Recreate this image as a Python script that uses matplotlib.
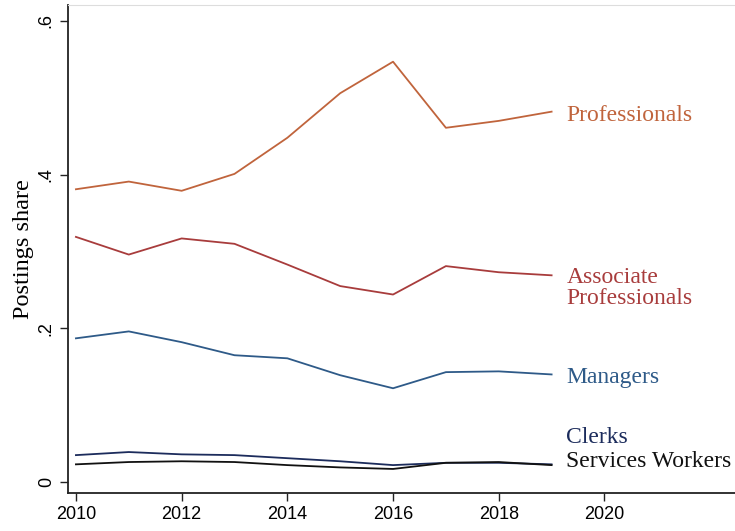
import matplotlib
matplotlib.use("Agg")
import matplotlib.pyplot as plt

years = [2010, 2011, 2012, 2013, 2014, 2015, 2016, 2017, 2018, 2019]
professionals = [0.381, 0.391, 0.379, 0.401, 0.448, 0.506, 0.547, 0.461, 0.470, 0.482]
associate = [0.319, 0.296, 0.317, 0.310, 0.283, 0.255, 0.244, 0.281, 0.273, 0.269]
managers = [0.187, 0.196, 0.182, 0.165, 0.161, 0.139, 0.122, 0.143, 0.144, 0.140]
clerks = [0.035, 0.039, 0.036, 0.035, 0.031, 0.027, 0.022, 0.025, 0.025, 0.023]
services = [0.023, 0.026, 0.027, 0.026, 0.022, 0.019, 0.017, 0.025, 0.026, 0.022]

series = [
    ("Professionals", professionals, "#c0643c", 0.477),
    ("Associate\nProfessionals", associate, "#a83c3c", 0.253),
    ("Managers", managers, "#2e5a88", 0.136),
    ("Clerks", clerks, "#1c2c5c", 0.058),
    ("Services Workers", services, "#111111", 0.027),
]

xticks = [2010, 2012, 2014, 2016, 2018, 2020]
yticks = [0, 0.2, 0.4, 0.6]
yticklabels = ["0", ".2", ".4", ".6"]

fig = plt.figure(figsize=(7.35, 5.31), dpi=100)
ax = fig.add_axes([68/735, 38/531, 1 - 68/735, (531 - 38 - 5)/531])

for name, vals, col, ly in series:
    ax.plot(years, vals, color=col, lw=1.3)
    ax.text(2019.28, ly, name, color=col, fontsize=17, family="Liberation Serif",
            va="center", ha="left", linespacing=1.0)

ax.set_xlim(2009.85, 2022.47)
ax.set_ylim(-0.0143, 0.6208)
ax.set_xticks(xticks)
ax.set_xticklabels([str(x) for x in xticks], family="Liberation Sans", fontsize=13)
ax.set_yticks(yticks)
ax.set_yticklabels(yticklabels, family="Liberation Sans", fontsize=13, rotation=90, va="center")
ax.tick_params(direction="out", length=6, width=1, color="#222222")
ax.set_ylabel("Postings share", family="Liberation Serif", fontsize=17.5, labelpad=3)

for s in ["left", "bottom"]:
    ax.spines[s].set_linewidth(1.3)
    ax.spines[s].set_color("#222222")
ax.spines["right"].set_visible(False)
ax.spines["top"].set_color("#dddddd")
ax.spines["top"].set_linewidth(0.8)

fig.savefig("out.png", dpi=100)
